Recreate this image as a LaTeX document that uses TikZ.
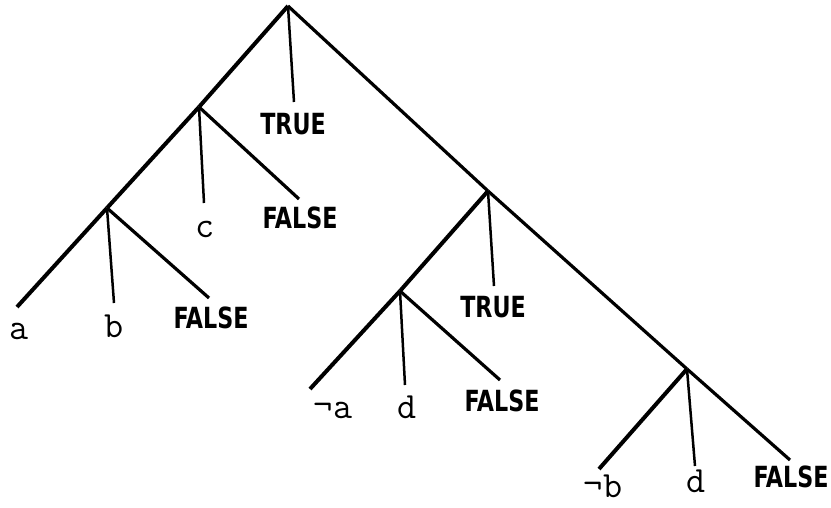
\documentclass[tikz,border=0pt]{standalone}
\usepackage{fontspec}
\usetikzlibrary{positioning}
\newfontfamily\boolfont{DejaVuSansCondensed-Bold}[Extension=.ttf]
\newcommand{\boolword}[1]{\scalebox{0.95}[1.12]{#1}}
\tikzset{
  leftbranch/.style={line width=4pt},
  rightbranch/.style={line width=3.2pt},
  stem/.style={line width=2.5pt},
  litlabel/.style={font=\fontsize{37}{37}\selectfont\ttfamily, anchor=base, inner sep=0pt},
  boollabel/.style={font=\fontsize{26}{26}\selectfont\boolfont, anchor=base, inner sep=0pt},
}
\begin{document}
\begin{tikzpicture}[x=1pt, y=-1pt]
\useasboundingbox (0,0) rectangle (831,508);

% ================= inner nodes =================
\coordinate (root) at (288,6);
\coordinate (nL)   at (199,107);
\coordinate (nLL)  at (107,208);
\coordinate (nR)   at (488,191);
\coordinate (nRL)  at (400,291);
\coordinate (nRR)  at (687,369);

% ================= branch ends =================
\coordinate (eTrueTop) at (294,102);
\coordinate (eC)       at (204,203);
\coordinate (eFalseL)  at (299,199);
\coordinate (eA)       at (17,307);
\coordinate (eB)       at (114,303);
\coordinate (eFalseLL) at (209,298);
\coordinate (eTrueR)   at (494,286);
\coordinate (eNotA)    at (310,389);
\coordinate (eDL)      at (405,385);
\coordinate (eFalseRL) at (500,380);
\coordinate (eNotB)    at (599,469);
\coordinate (eDR)      at (695,466);
\coordinate (eFalseRR) at (790,460);

% ================= branches =================
\draw[leftbranch]  (root) -- (nL);
\draw[stem]        (root) -- (eTrueTop);
\draw[rightbranch] (root) -- (nR);

\draw[leftbranch]  (nL) -- (nLL);
\draw[stem]        (nL) -- (eC);
\draw[rightbranch] (nL) -- (eFalseL);

\draw[leftbranch]  (nLL) -- (eA);
\draw[stem]        (nLL) -- (eB);
\draw[rightbranch] (nLL) -- (eFalseLL);

\draw[leftbranch]  (nR) -- (nRL);
\draw[stem]        (nR) -- (eTrueR);
\draw[rightbranch] (nR) -- (nRR);

\draw[leftbranch]  (nRL) -- (eNotA);
\draw[stem]        (nRL) -- (eDL);
\draw[rightbranch] (nRL) -- (eFalseRL);

\draw[leftbranch]  (nRR) -- (eNotB);
\draw[stem]        (nRR) -- (eDR);
\draw[rightbranch] (nRR) -- (eFalseRR);

% ================= leaf labels =================
\node[boollabel] (tTrueTop) at (293,135) {\boolword{TRUE}};
\node[litlabel]  (tC)       at (205,237) {c};
\node[boollabel] (tFalseL)  at (300,229) {\boolword{FALSE}};
\node[litlabel]  (tA)       at (19,339)  {a};
\node[litlabel]  (tB)       at (114,337) {b};
\node[boollabel] (tFalseLL) at (211,328) {\boolword{FALSE}};
\node[boollabel] (tTrueR)   at (493,317) {\boolword{TRUE}};
\node[litlabel]  (tNotA)    at (333,418) {¬a};
\node[litlabel]  (tDL)      at (407,418) {d};
\node[boollabel] (tFalseRL) at (502,411) {\boolword{FALSE}};
\node[litlabel]  (tNotB)    at (603,497) {¬b};
\node[litlabel]  (tDR)      at (696,492) {d};
\node[boollabel] (tFalseRR) at (791,487) {\boolword{FALSE}};
\end{tikzpicture}
\end{document}
